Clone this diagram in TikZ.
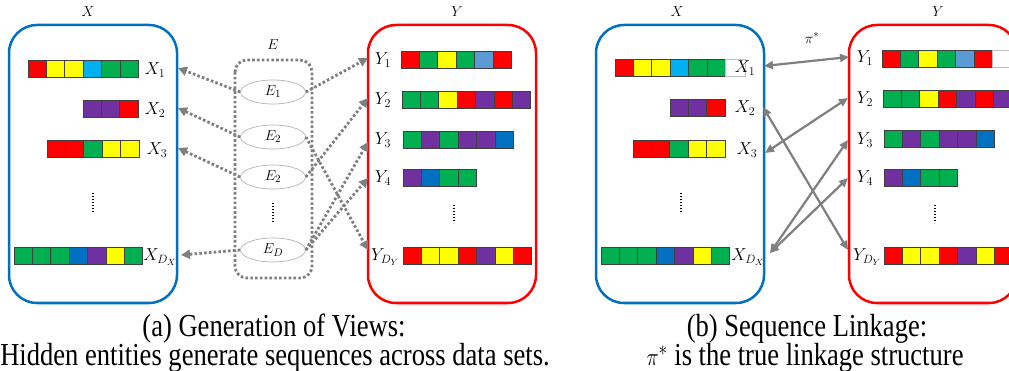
\documentclass[tikz,border=0pt]{standalone}
\usepackage{fontspec}
\setmainfont{Liberation Serif}
\usetikzlibrary{arrows.meta, shapes.geometric}

% cell colours
\definecolor{cred}{RGB}{255,0,0}
\definecolor{cyel}{RGB}{255,255,0}
\definecolor{ccyan}{RGB}{0,176,240}
\definecolor{cgreen}{RGB}{0,176,80}
\definecolor{cpurple}{RGB}{112,48,160}
\definecolor{cblue}{RGB}{0,112,192}
\definecolor{csteel}{RGB}{91,155,213}
\definecolor{linkgray}{RGB}{127,127,127}

\tikzset{
  % the two data sets
  dataset/.style={line width=2.5pt, rounded corners=28pt},
  setx/.style={dataset, draw=cblue},
  sety/.style={dataset, draw=cred},
  % one symbol of a sequence
  cellbox/.style={draw=black!75, line width=0.8pt},
  blankcell/.style={draw=black!25, line width=0.8pt, fill=white},
  % hidden entities
  entity/.style={ellipse, draw=black!30, line width=0.7pt,
    minimum width=65pt, minimum height=24pt, inner sep=0pt,
    font=\fontsize{15}{15}\selectfont},
  entbox/.style={draw=linkgray, line width=2.8pt, rounded corners=12pt,
    dash pattern=on 2.6pt off 2.2pt},
  % labels
  setlabel/.style={inner sep=0pt, font=\fontsize{15}{15}\selectfont},
  rowlabel/.style={inner sep=0pt, font=\fontsize{18}{18}\selectfont},
  vdots/.style={line width=1.3pt, dash pattern=on 1.3pt off 1.7pt},
  caption/.style={anchor=base, inner sep=0pt, font=\fontsize{32}{36}\selectfont},
  % connectors
  view/.style={draw=linkgray, line width=2.8pt, dash pattern=on 2.6pt off 2.2pt,
    -{Triangle[length=9pt,width=9pt]}},
  match/.style={draw=linkgray, line width=2.2pt,
    {Triangle[length=9pt,width=8pt]}-{Triangle[length=9pt,width=8pt]}}
}

% #1 = left, #2 = top, #3 = colours
\newcommand{\seqrow}[3]{%
  \foreach \c [count=\i from 0] in {#3}
    \draw[cellbox, fill=\c] ({#1+\i*18.4},#2) rectangle ++(18.4,17);
}

\begin{document}
\begin{tikzpicture}[x=1pt, y=-1pt]
  \useasboundingbox (0,0) rectangle (1009,371);

  % --- (a) generation of views ---
  \draw[setx] (9,25) rectangle (177,303);
  \node[setlabel] (xa) at (88,12) {$X$};
  \seqrow{28}{60}{cred,cyel,cyel,ccyan,cgreen,cgreen}
  \seqrow{83}{100}{cpurple,cpurple,cred}
  \seqrow{47}{140}{cred,cred,cgreen,cyel,cyel}
  \seqrow{14}{247}{cgreen,cgreen,cgreen,cblue,cpurple,cyel,cgreen}
  \node[rowlabel] (xa1) at (155,70) {$X_1$};
  \node[rowlabel] (xa2) at (155,110) {$X_2$};
  \node[rowlabel] (xa3) at (157,150) {$X_3$};
  \node[rowlabel] (xad) at (160,257) {$X_{D_X}$};
  \draw[vdots] (93,193) -- (93,212);

  \draw[entbox] (235,60) rectangle (312,278);
  \node[setlabel] (ea) at (273,45) {$E$};
  \node[entity] (e1) at (273,92) {$E_1$};
  \node[entity] (e2) at (273,137) {$E_2$};
  \node[entity] (e3) at (273,177) {$E_2$};
  \node[entity] (ed) at (273,250) {$E_D$};
  \draw[vdots] (273,203) -- (273,223);

  \draw[sety] (368,25) rectangle (536,303);
  \node[setlabel] (ya) at (457,12) {$Y$};
  \seqrow{401}{51}{cred,cgreen,cyel,cgreen,csteel,cred}
  \seqrow{402}{91}{cgreen,cgreen,cyel,cred,cpurple,cred,cpurple}
  \seqrow{403}{131}{cgreen,cpurple,cgreen,cpurple,cpurple,cblue}
  \seqrow{403}{169}{cpurple,cblue,cgreen,cgreen}
  \seqrow{403}{247}{cred,cyel,cyel,cred,cpurple,cyel,cred}
  \node[rowlabel] (ya1) at (383,60) {$Y_1$};
  \node[rowlabel] (ya2) at (383,100) {$Y_2$};
  \node[rowlabel] (ya3) at (383,140) {$Y_3$};
  \node[rowlabel] (ya4) at (383,178) {$Y_4$};
  \node[rowlabel] (yad) at (385,257) {$Y_{D_Y}$};
  \draw[vdots] (454,205) -- (454,223);

  % arrow ends on the set borders
  \coordinate (px1) at (178,68);
  \coordinate (px2) at (178,108);
  \coordinate (px3) at (178,148);
  \coordinate (pxd) at (181,255);
  \coordinate (py1) at (368,58);
  \coordinate (py2) at (368,98);
  \coordinate (py3) at (368,142);
  \coordinate (py4) at (368,178);
  \coordinate (pyd) at (368,250);

  \draw[view] (e1.west) -- (px1);
  \draw[view] (e2.west) -- (px2);
  \draw[view] (e3.west) -- (px3);
  \draw[view] (ed.west) -- (pxd);
  \draw[view] (e1.east) -- (py1);
  \draw[view] (e2.east) -- (pyd);
  \draw[view] (e3.east) -- (py2);
  \draw[view] (ed.east) -- (py3);
  \draw[view] (ed.east) -- (py4);

  \node[caption] (capa) at (274,336) {\scalebox{0.83}[1]{(a) Generation of Views:}};
  \node[caption] (capa2) at (275,365) {\scalebox{0.83}[1]{Hidden entities generate sequences across data sets.}};

  % --- (b) sequence linkage ---
  \draw[setx] (596,25) rectangle (764,303);
  \node[setlabel] (xb) at (677,12) {$X$};
  \seqrow{615}{59}{cred,cyel,cyel,ccyan,cgreen,cgreen}
  \draw[blankcell] (725.4,59) rectangle ++(19.6,17);
  \seqrow{670}{99}{cpurple,cpurple,cred}
  \seqrow{633}{140}{cred,cred,cgreen,cyel,cyel}
  \seqrow{601}{247}{cgreen,cgreen,cgreen,cblue,cpurple,cyel,cgreen}
  \node[rowlabel] (xb1) at (745,68) {$X_1$};
  \node[rowlabel] (xb2) at (745,108) {$X_2$};
  \node[rowlabel] (xb3) at (747,150) {$X_3$};
  \node[rowlabel] (xbd) at (748,257) {$X_{D_X}$};
  \draw[vdots] (681,193) -- (681,212);

  \draw[sety] (849,25) rectangle (1017,303);
  \node[setlabel] (yb) at (938,12) {$Y$};
  \seqrow{882}{50}{cred,cgreen,cyel,cgreen,csteel,cred}
  \draw[blankcell] (992.4,50) rectangle ++(19,17);
  \seqrow{883}{90}{cgreen,cgreen,cyel,cred,cpurple,cred,cpurple}
  \seqrow{884}{130}{cgreen,cpurple,cgreen,cpurple,cpurple,cblue}
  \seqrow{884}{169}{cpurple,cblue,cgreen,cgreen}
  \seqrow{884}{247}{cred,cyel,cyel,cred,cpurple,cyel,cred}
  \node[rowlabel] (yb1) at (865,58) {$Y_1$};
  \node[rowlabel] (yb2) at (865,99) {$Y_2$};
  \node[rowlabel] (yb3) at (865,140) {$Y_3$};
  \node[rowlabel] (yb4) at (865,178) {$Y_4$};
  \node[rowlabel] (ybd) at (867,257) {$Y_{D_Y}$};
  \draw[vdots] (935,205) -- (935,223);

  \node[setlabel] (pi) at (812,38) {$\pi^*$};

  \coordinate (qx1) at (764,66);
  \coordinate (qx2) at (763,107);
  \coordinate (qx3) at (765,153);
  \coordinate (qxd) at (770,253);
  \coordinate (qy1) at (849,57);
  \coordinate (qy2) at (848,98);
  \coordinate (qy3) at (848,140);
  \coordinate (qy4) at (848,178);
  \coordinate (qyd) at (848,250);

  \draw[match] (qx1) -- (qy1);
  \draw[match] (qx2) -- (qyd);
  \draw[match] (qx3) -- (qy2);
  \draw[match] (qxd) -- (qy3);
  \draw[match] (qxd) -- (qy4);

  \node[caption] (capb) at (807,336) {\scalebox{0.83}[1]{(b) Sequence Linkage:}};
  \node[caption] (capb2) at (805,365) {\scalebox{0.83}[1]{$\pi^*$ is the true linkage structure}};
\end{tikzpicture}
\end{document}
